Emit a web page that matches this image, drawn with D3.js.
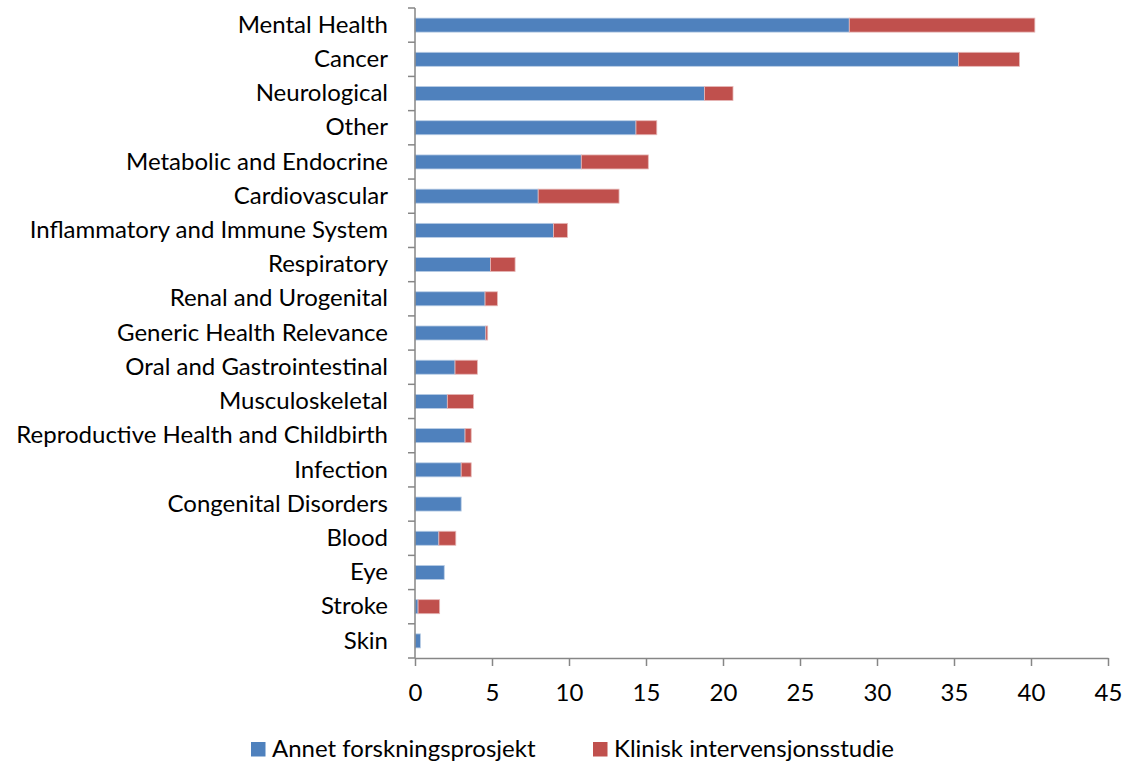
<!DOCTYPE html>
<html>
<head>
<meta charset="utf-8">
<script src="https://cdn.jsdelivr.net/npm/d3@7"></script>
<style>
  body { margin: 0; background: #fff; }
  text { font-family: Lato, "Open Sans", sans-serif; fill: #000; }
</style>
</head>
<body>
<svg id="chart" width="1125" height="765"></svg>
<script>
// categories, top to bottom
var categories = ["Mental Health", "Cancer", "Neurological", "Other", "Metabolic and Endocrine",
  "Cardiovascular", "Inflammatory and Immune System", "Respiratory", "Renal and Urogenital",
  "Generic Health Relevance", "Oral and Gastrointestinal", "Musculoskeletal",
  "Reproductive Health and Childbirth", "Infection", "Congenital Disorders", "Blood", "Eye",
  "Stroke", "Skin"];
var annet   = [28.2, 35.3, 18.8, 14.35, 10.8, 8.0, 9.0, 4.9, 4.55, 4.6, 2.6, 2.1, 3.25, 3.0, 3.0, 1.55, 1.9, 0.2, 0.35];
var klinisk = [12.05, 3.95, 1.85, 1.35, 4.35, 5.25, 0.9, 1.6, 0.8, 0.12, 1.45, 1.7, 0.4, 0.65, 0, 1.1, 0, 1.4, 0];
var seriesNames = ["Annet forskningsprosjekt", "Klinisk intervensjonsstudie"];
var seriesColors = ["#4F81BD", "#C0504D"];
var xTicks = [0, 5, 10, 15, 20, 25, 30, 35, 40, 45];

var svg = d3.select("#chart");
var pLeft = 415, pRight = 1108, pTop = 8, pBottom = 658;
var fs = "24px";

var x = d3.scaleLinear().domain([0, 45]).range([pLeft, pRight]);
var y = d3.scaleBand().domain(categories).range([pTop, pBottom]).paddingInner(0.59).paddingOuter(0.295);

var rows = categories.map(function(c, i){ return {cat: c, a: annet[i], k: klinisk[i]}; });
var stacked = d3.stack().keys(["a", "k"])(rows);

var g = svg.append("g");
stacked.forEach(function(layer, li){
  g.append("g").selectAll("rect")
    .data(layer)
    .join("rect")
      .attr("x", function(d){ return x(d[0]); })
      .attr("y", function(d){ return y(d.data.cat); })
      .attr("width", function(d){ return Math.max(0, x(d[1]) - x(d[0])); })
      .attr("height", y.bandwidth())
      .style("fill", seriesColors[li])
      .style("stroke", li == 0 ? "#b9cde5" : "#e6b9b8")
      .style("stroke-width", 0.8);
});

// category axis
var yAxis = svg.append("g")
  .attr("transform", "translate(" + pLeft + ",0)")
  .call(d3.axisLeft(y).tickSize(0).tickPadding(27));
yAxis.select(".domain").remove();
yAxis.selectAll("text").style("font-size", fs);
// ticks between categories
var step = (pBottom - pTop) / categories.length;
svg.append("g").selectAll("line")
  .data(d3.range(categories.length + 1))
  .join("line")
    .attr("x1", pLeft - 7).attr("x2", pLeft)
    .attr("y1", function(i){ return pTop + i * step; })
    .attr("y2", function(i){ return pTop + i * step; })
    .style("stroke", "#868686").style("stroke-width", 1.5);
svg.append("line")
  .attr("x1", pLeft).attr("x2", pLeft).attr("y1", pTop).attr("y2", pBottom)
  .style("stroke", "#868686").style("stroke-width", 1.5);

// value axis
var xAxis = svg.append("g")
  .attr("transform", "translate(0," + pBottom + ")")
  .call(d3.axisBottom(x).tickValues(xTicks).tickSize(8).tickPadding(18).tickSizeOuter(0));
xAxis.select(".domain").style("stroke", "#868686").style("stroke-width", 1.5);
xAxis.selectAll(".tick line").style("stroke", "#868686").style("stroke-width", 1.5);
xAxis.selectAll("text").style("font-size", fs);

// legend
var legendX = [251, 593];
var leg = svg.append("g").selectAll("g")
  .data(seriesNames)
  .join("g")
    .attr("transform", function(d, i){ return "translate(" + legendX[i] + ",742)"; });
leg.append("rect").attr("width", 14.5).attr("height", 14.5)
  .style("fill", function(d, i){ return seriesColors[i]; });
leg.append("text").attr("x", 21).attr("y", 15)
  .style("font-size", fs).text(function(d){ return d; });
</script>
</body>
</html>
